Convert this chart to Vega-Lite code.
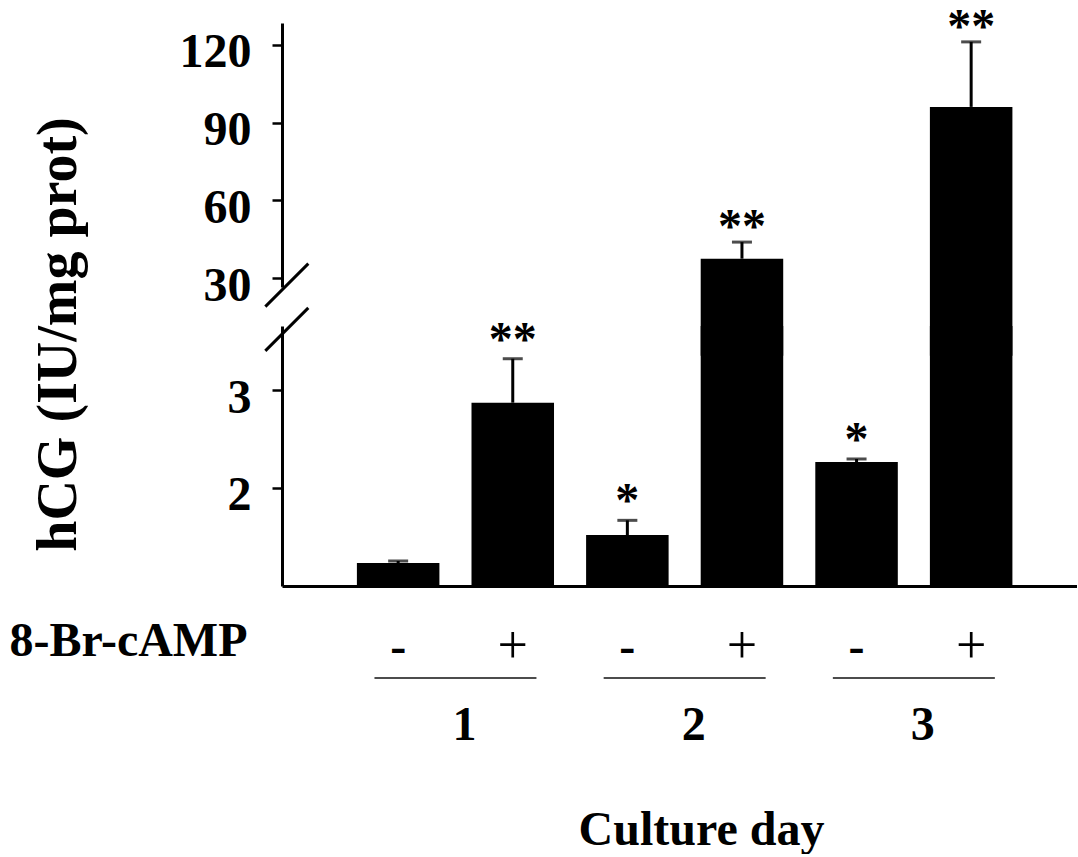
{
  "$schema": "https://vega.github.io/schema/vega-lite/v6.json",
  "background": "white",
  "padding": {"top": 3, "left": 8, "right": 0, "bottom": 0},
  "bounds": "flush",
  "spacing": 39,
  "config": {
    "view": {"stroke": null},
    "font": "Liberation Serif",
    "axis": {
      "labelFont": "Liberation Serif", "labelFontWeight": "bold", "labelFontSize": 48, "labelColor": "black",
      "titleFont": "Liberation Serif", "titleFontWeight": "bold", "titleFontSize": 48, "titleColor": "black",
      "domainColor": "black", "tickColor": "black", "grid": false, "labelOverlap": false, "labelFlush": false, "labelLimit": 400
    },
    "text": {"font": "Liberation Serif", "fontWeight": "bold", "fontSize": 48, "color": "black"}
  },
  "data": {"values": [
    {"day": "1", "trt": "-", "mean": 1.232, "upper": 1.253, "sig": ""},
    {"day": "1", "trt": "+", "mean": 2.873, "upper": 3.323, "sig": "**"},
    {"day": "2", "trt": "-", "mean": 1.519, "upper": 1.669, "sig": "*"},
    {"day": "2", "trt": "+", "mean": 37.5, "upper": 43.9, "sig": "**"},
    {"day": "3", "trt": "-", "mean": 2.266, "upper": 2.297, "sig": "*"},
    {"day": "3", "trt": "+", "mean": 96.1, "upper": 121.2, "sig": "**"}
  ]},
  "vconcat": [
    {
      "width": 795, "height": 264,
      "transform": [{"filter": "datum.mean > 10"}],
      "encoding": {
        "x": {"field": "day", "type": "nominal", "scale": {"domain": ["1", "2", "3"], "paddingInner": 0, "paddingOuter": 0.2343, "align": 0.548}, "axis": null},
        "xOffset": {"field": "trt", "type": "nominal", "scale": {"domain": ["-", "+"], "paddingInner": 0.28, "paddingOuter": 0.14}}
      },
      "resolve": {"axis": {"y": "independent"}},
      "layer": [
        {
          "mark": {"type": "bar", "color": "black"},
          "encoding": {
            "y": {"field": "mean", "type": "quantitative",
              "scale": {"domain": [26.56, 128.49], "zero": false, "nice": false},
              "axis": {
                "orient": "left", "values": [30, 60, 90, 120], "title": null, "format": "d",
                "domainWidth": 3, "tickWidth": 2.5, "tickSize": 10,
                "labelBaseline": "alphabetic", "labelOffset": 22, "labelPadding": 21
              }
            }
          }
        },
        {
          "mark": {"type": "rule", "color": "black", "strokeWidth": 3},
          "encoding": {"y": {"field": "mean", "type": "quantitative", "axis": null}, "y2": {"field": "upper"}}
        },
        {
          "mark": {"type": "tick", "orient": "horizontal", "size": 20, "thickness": 3, "color": "black"},
          "encoding": {"y": {"field": "upper", "type": "quantitative",
            "axis": {
              "orient": "left", "values": [28.6], "title": null, "domain": false, "ticks": false,
              "labelExpr": "'—'", "labelAngle": -45, "labelAlign": "center", "labelBaseline": "middle",
              "labelPadding": -1.5, "labelFontSize": 60, "labelFontWeight": "normal"
            }}}
        },
        {
          "mark": {"type": "text", "baseline": "alphabetic", "dy": 0},
          "encoding": {"y": {"field": "upper", "type": "quantitative", "axis": null}, "text": {"field": "sig"}}
        }
      ]
    },
    {
      "width": 795, "height": 260,
      "encoding": {
        "x": {"field": "day", "type": "nominal", "scale": {"domain": ["1", "2", "3"], "paddingInner": 0, "paddingOuter": 0.2343, "align": 0.548},
          "axis": {"labels": false, "ticks": false, "title": null, "domainWidth": 3}},
        "xOffset": {"field": "trt", "type": "nominal", "scale": {"domain": ["-", "+"], "paddingInner": 0.28, "paddingOuter": 0.14}}
      },
      "resolve": {"axis": {"y": "independent"}},
      "layer": [
        {
          "mark": {"type": "bar", "color": "black"},
          "encoding": {
            "y": {"field": "mean", "type": "quantitative",
              "scale": {"domain": [0.997, 3.658], "zero": false, "nice": false, "clamp": true},
              "axis": {
                "orient": "left", "values": [2, 3], "format": "d",
                "title": "hCG (IU/mg prot)", "titleFontSize": 56, "titleX": -207, "titleY": 8,
                "titleAngle": 270, "titleBaseline": "alphabetic", "titleAlign": "center",
                "domainWidth": 3, "tickWidth": 2.5, "tickSize": 10,
                "labelBaseline": "alphabetic", "labelOffset": 22, "labelPadding": 21
              }
            }
          }
        },
        {
          "transform": [{"filter": "datum.upper < 3.6"}],
          "mark": {"type": "rule", "color": "black", "strokeWidth": 3},
          "encoding": {"y": {"field": "mean", "type": "quantitative", "axis": null}, "y2": {"field": "upper"}}
        },
        {
          "transform": [{"filter": "datum.upper < 3.6"}],
          "mark": {"type": "tick", "orient": "horizontal", "size": 20, "thickness": 3, "color": "black"},
          "encoding": {"y": {"field": "upper", "type": "quantitative",
            "axis": {
              "orient": "left", "values": [3.658], "title": null, "domain": false, "ticks": false,
              "labelExpr": "'—'", "labelAngle": -45, "labelAlign": "center", "labelBaseline": "middle",
              "labelPadding": -1.5, "labelFontSize": 60, "labelFontWeight": "normal"
            }}}
        },
        {
          "transform": [{"filter": "datum.mean < 10"}],
          "mark": {"type": "text", "baseline": "alphabetic", "dy": -4},
          "encoding": {"y": {"field": "upper", "type": "quantitative", "axis": null}, "text": {"field": "sig"}}
        }
      ]
    },
    {
      "width": 795, "height": 80,
      "encoding": {
        "x": {"field": "day", "type": "nominal", "scale": {"domain": ["1", "2", "3"], "paddingInner": 0, "paddingOuter": 0.2343, "align": 0.548},
          "axis": {"domain": false, "ticks": false, "labelAngle": 0, "labelOffset": 9, "labelPadding": 34, "labelBaseline": "alphabetic",
            "title": "Culture day", "titleX": 419, "titleY": 139, "titleBaseline": "alphabetic", "titleAlign": "center", "titleAngle": 0}}
      },
      "layer": [
        {
          "transform": [{"filter": "datum.trt == '-'"}],
          "mark": {"type": "text", "baseline": "alphabetic", "dy": 12},
          "encoding": {
            "xOffset": {"field": "trt", "type": "nominal", "scale": {"domain": ["-", "+"], "paddingInner": 0.28, "paddingOuter": 0.14}},
            "y": {"datum": "8-Br-cAMP", "type": "nominal",
              "scale": {"type": "point", "domain": ["8-Br-cAMP", " "], "padding": 0.9545, "align": 0.4857},
              "axis": {"title": null, "domain": false, "ticks": false, "labelPadding": 35, "labelBaseline": "alphabetic", "labelOffset": 5.5, "labelAlign": "right"}},
            "text": {"field": "trt"}
          }
        },
        {
          "transform": [{"filter": "datum.trt == '+'"}],
          "mark": {"type": "text", "baseline": "alphabetic", "dy": 13, "fontWeight": "normal", "fontSize": 54},
          "encoding": {
            "xOffset": {"field": "trt", "type": "nominal", "scale": {"domain": ["-", "+"], "paddingInner": 0.28, "paddingOuter": 0.14}},
            "y": {"datum": "8-Br-cAMP", "type": "nominal"},
            "text": {"field": "trt"}
          }
        },
        {
          "transform": [{"filter": "datum.trt == '-'"}],
          "mark": {"type": "tick", "orient": "horizontal", "size": 162, "thickness": 2, "color": "black"},
          "encoding": {"y": {"datum": " ", "type": "nominal"}}
        }
      ]
    }
  ]
}
